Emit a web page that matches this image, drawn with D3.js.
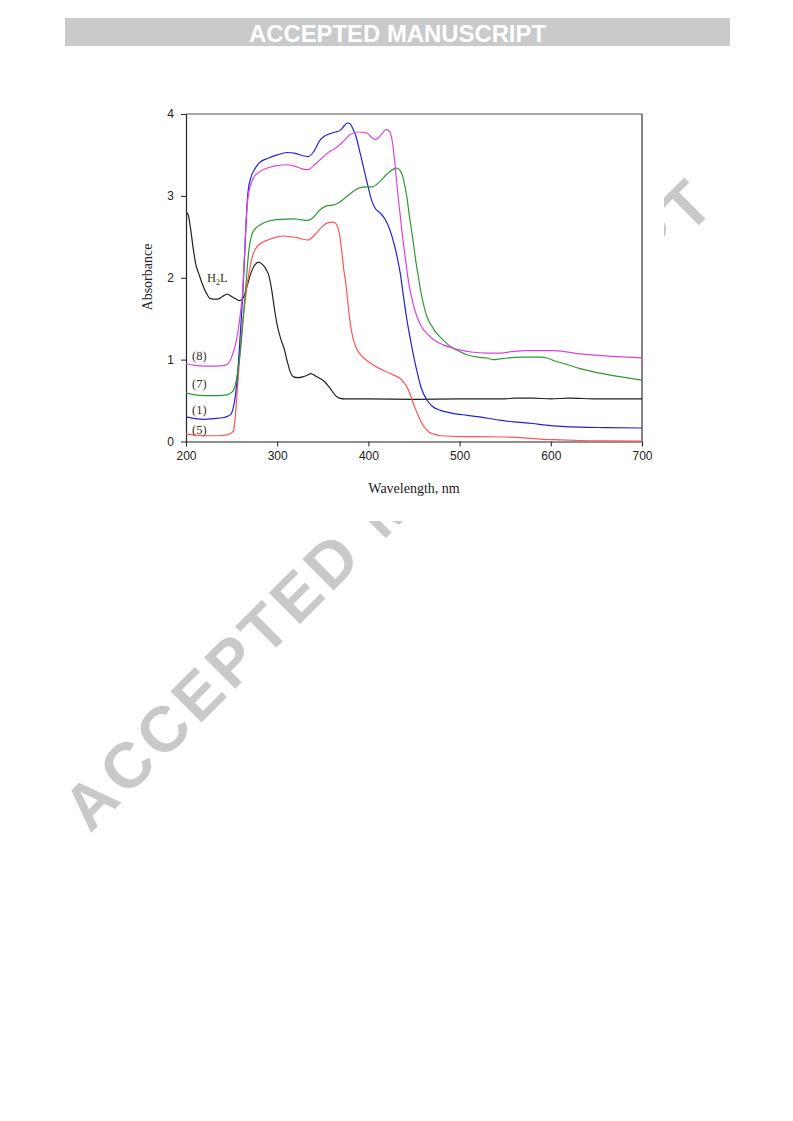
<!DOCTYPE html>
<html>
<head>
<meta charset="utf-8">
<script src="https://cdn.jsdelivr.net/npm/d3@7"></script>
<style>
  html, body { margin: 0; padding: 0; background: #fff; }
  svg { display: block; }
</style>
</head>
<body>
<svg id="chart" width="793" height="1121"></svg>
<script>
// ---- Data ----
const xTicks = [200, 300, 400, 500, 600, 700];
const yTicks = [0, 1, 2, 3, 4];

// H2L (black)
const seriesH2L = [[200,2.8],[202,2.78],[205,2.6],[208,2.35],[211,2.15],[214,2.05],[218,1.92],[222,1.82],[226,1.75],[230,1.74],[235,1.74],[240,1.77],[245,1.80],[250,1.77],[255,1.74],[259,1.72],[263,1.76],[267,1.9],[271,2.05],[275,2.15],[280,2.19],[284,2.16],[288,2.1],[291,2.02],[294,1.85],[297,1.62],[300,1.42],[304,1.25],[308,1.12],[311,0.98],[314,0.86],[318,0.79],[323,0.78],[328,0.79],[333,0.81],[337,0.83],[342,0.8],[347,0.77],[352,0.73],[356,0.68],[360,0.62],[364,0.56],[368,0.53],[375,0.52],[400,0.52],[450,0.515],[500,0.52],[550,0.52],[560,0.53],[580,0.53],[600,0.52],[620,0.53],[650,0.52],[700,0.52]];

// (1) blue
const series1 = [[200,0.30],[210,0.28],[220,0.27],[230,0.28],[240,0.29],[246,0.31],[249,0.33],[252,0.42],[254,0.55],[256,0.75],[258,1.05],[260,1.40],[262,1.75],[264,2.2],[266,2.7],[268,3.05],[271,3.22],[275,3.32],[280,3.40],[290,3.46],[300,3.50],[311,3.53],[320,3.52],[328,3.49],[334,3.48],[340,3.54],[347,3.68],[352,3.73],[358,3.76],[364,3.78],[369,3.80],[373,3.85],[377,3.89],[380,3.88],[383,3.82],[386,3.74],[391,3.52],[398,3.19],[404,2.93],[408,2.84],[413,2.79],[418,2.72],[422,2.63],[426,2.5],[430,2.33],[435,2.05],[438,1.81],[442,1.5],[446,1.25],[450,1.02],[453,0.87],[458,0.65],[464,0.51],[470,0.43],[479,0.38],[490,0.35],[508,0.32],[522,0.30],[544,0.26],[559,0.24],[580,0.22],[595,0.20],[632,0.175],[660,0.17],[700,0.165]];

// (5) red
const series5 = [[200,0.09],[210,0.08],[220,0.07],[235,0.07],[245,0.08],[249,0.10],[252,0.13],[254,0.3],[256,0.59],[258,0.9],[260,1.2],[262,1.45],[265,1.73],[267,1.92],[269,2.05],[271,2.18],[274,2.3],[278,2.38],[285,2.44],[292,2.47],[300,2.50],[307,2.51],[315,2.50],[322,2.49],[328,2.47],[334,2.46],[339,2.50],[344,2.56],[350,2.63],[355,2.67],[362,2.68],[365,2.65],[368,2.55],[371,2.3],[373,2.1],[375,1.95],[377,1.75],[380,1.45],[383,1.27],[386,1.16],[390,1.08],[395,1.02],[402,0.96],[409,0.91],[416,0.87],[424,0.83],[430,0.80],[435,0.77],[439,0.72],[442,0.67],[446,0.57],[449,0.47],[453,0.36],[457,0.26],[461,0.18],[466,0.12],[472,0.09],[479,0.07],[500,0.06],[520,0.06],[548,0.055],[570,0.045],[588,0.03],[610,0.02],[632,0.012],[660,0.008],[700,0.005]];

// (7) green
const series7 = [[200,0.59],[210,0.57],[220,0.56],[235,0.56],[245,0.57],[250,0.60],[253,0.65],[256,0.8],[258,0.95],[260,1.15],[262,1.4],[265,1.81],[267,2.1],[269,2.34],[272,2.52],[276,2.6],[282,2.65],[290,2.69],[300,2.71],[318,2.72],[325,2.71],[333,2.70],[339,2.73],[347,2.83],[355,2.88],[362,2.89],[368,2.92],[376,2.99],[384,3.06],[391,3.10],[398,3.11],[404,3.11],[409,3.14],[413,3.18],[418,3.24],[424,3.30],[428,3.33],[431,3.34],[434,3.32],[437,3.26],[440,3.12],[442,3.0],[445,2.75],[449,2.45],[452,2.2],[455,2.0],[458,1.8],[461,1.65],[464,1.53],[470,1.4],[475,1.32],[482,1.24],[490,1.16],[500,1.10],[508,1.06],[520,1.03],[530,1.02],[537,1.00],[545,1.01],[552,1.02],[570,1.03],[588,1.03],[596,1.02],[603,0.99],[615,0.95],[632,0.89],[661,0.82],[700,0.75]];

// (8) magenta
const series8 = [[200,0.95],[210,0.93],[220,0.92],[232,0.92],[242,0.93],[246,0.95],[249,1.0],[252,1.1],[255,1.22],[258,1.42],[260,1.6],[262,1.81],[264,2.25],[266,2.7],[268,2.98],[270,3.1],[274,3.22],[280,3.29],[292,3.35],[300,3.37],[311,3.38],[320,3.36],[327,3.33],[334,3.32],[340,3.37],[347,3.44],[356,3.53],[365,3.59],[372,3.66],[380,3.75],[389,3.78],[398,3.77],[403,3.72],[407,3.69],[410,3.70],[415,3.76],[419,3.81],[422,3.80],[425,3.74],[427,3.6],[429,3.4],[432,3.05],[435,2.75],[438,2.45],[441,2.2],[444,1.95],[447,1.78],[451,1.6],[457,1.43],[464,1.32],[472,1.24],[482,1.18],[500,1.12],[515,1.09],[530,1.08],[545,1.08],[559,1.10],[573,1.11],[603,1.11],[632,1.07],[668,1.04],[700,1.02]];

const seriesColors = { h2l: "#222222", s5: "#ff5555", s1: "#2222dd", s7: "#2e9a2e", s8: "#dd44dd" };
const curveLabels = [
  { text: "(8)", x: 200, y: 1.04 },
  { text: "(7)", x: 200, y: 0.70 },
  { text: "(1)", x: 200, y: 0.39 },
  { text: "(5)", x: 200, y: 0.14 }
];

// ---- Drawing ----
const svg = d3.select("#chart");
svg.append("rect").attr("width", 793).attr("height", 1121).attr("fill", "#fff");

// Watermark (behind chart image)
svg.append("text")
  .attr("transform", "translate(90,834) rotate(-45)")
  .attr("font-family", "Liberation Sans, Arial, sans-serif")
  .attr("font-weight", "bold")
  .attr("font-size", 64)
  .attr("fill", "#c8c9cb")
  .attr("textLength", 885)
  .attr("lengthAdjust", "spacing")
  .text("ACCEPTED MANUSCRIPT");

// White background of the chart image covering the watermark
svg.append("rect").attr("x", 120).attr("y", 90).attr("width", 544).attr("height", 431).attr("fill", "#fff");

// Header bar
svg.append("rect").attr("x", 65).attr("y", 18).attr("width", 665).attr("height", 28).attr("fill", "#c9cacc");
svg.append("text")
  .attr("x", 397.5).attr("y", 41.5)
  .attr("text-anchor", "middle")
  .attr("font-family", "Liberation Sans Narrow, Liberation Sans, Arial, sans-serif")
  .attr("font-weight", "bold")
  .attr("font-size", 23)
  .attr("fill", "#ffffff")
  .attr("textLength", 297)
  .attr("lengthAdjust", "spacingAndGlyphs")
  .text("ACCEPTED MANUSCRIPT");

const x = d3.scaleLinear().domain([200, 700]).range([186, 642]);
const y = d3.scaleLinear().domain([0, 4]).range([441.5, 114]);

const g = svg.append("g");

// Frame
g.append("line").attr("x1", 186).attr("x2", 642).attr("y1", y(4)).attr("y2", y(4)).attr("stroke", "#888").attr("stroke-width", 1.5);
g.append("line").attr("x1", 642).attr("x2", 642).attr("y1", y(4)).attr("y2", y(0)).attr("stroke", "#333").attr("stroke-width", 1.2);

const xAxis = d3.axisBottom(x).tickValues(xTicks).tickSize(5).tickSizeOuter(0).tickFormat(d3.format("d"));
const yAxis = d3.axisLeft(y).tickValues(yTicks).tickSize(5).tickSizeOuter(0).tickFormat(d3.format("d"));

const gx = g.append("g").attr("transform", `translate(0,${y(0)})`).call(xAxis);
const gy = g.append("g").attr("transform", `translate(${x(200)},0)`).call(yAxis);
[gx, gy].forEach(a => {
  a.select(".domain").attr("stroke", "#222").attr("stroke-width", 1.2);
  a.selectAll(".tick line").attr("stroke", "#222").attr("stroke-width", 1);
  a.selectAll(".tick text").attr("font-family", "Liberation Sans, Arial, sans-serif").attr("font-size", 12).attr("fill", "#222");
});
gx.selectAll(".tick text").attr("dy", "0.9em");
gy.selectAll(".tick text").attr("dx", "-0.35em");

// Axis titles
svg.append("text")
  .attr("x", 414).attr("y", 493)
  .attr("text-anchor", "middle")
  .attr("font-family", "Liberation Serif, Times New Roman, serif")
  .attr("font-size", 14).attr("fill", "#222")
  .text("Wavelength, nm");
svg.append("text")
  .attr("transform", "translate(152,277) rotate(-90)")
  .attr("text-anchor", "middle")
  .attr("font-family", "Liberation Serif, Times New Roman, serif")
  .attr("font-size", 14).attr("fill", "#222")
  .text("Absorbance");

// Curves
const line = d3.line().x(d => x(d[0])).y(d => y(d[1])).curve(d3.curveMonotoneX);
const series = [
  { data: seriesH2L, color: seriesColors.h2l },
  { data: series5, color: seriesColors.s5 },
  { data: series1, color: seriesColors.s1 },
  { data: series7, color: seriesColors.s7 },
  { data: series8, color: seriesColors.s8 }
];
g.selectAll("path.curve").data(series).join("path")
  .attr("class", "curve")
  .attr("d", d => line(d.data))
  .attr("fill", "none")
  .attr("stroke", d => d.color)
  .attr("stroke-width", 1.2);

// Curve labels
svg.selectAll("text.clabel").data(curveLabels).join("text")
  .attr("class", "clabel")
  .attr("x", d => x(d.x) + 6)
  .attr("y", d => y(d.y) + 4)
  .attr("font-family", "Liberation Serif, Times New Roman, serif")
  .attr("font-size", 12.5).attr("fill", "#3a3020")
  .text(d => d.text);

const h2l = svg.append("text")
  .attr("x", x(223)).attr("y", y(1.95))
  .attr("font-family", "Liberation Serif, Times New Roman, serif")
  .attr("font-size", 12.5).attr("fill", "#3a3020");
h2l.append("tspan").text("H");
h2l.append("tspan").attr("font-size", 8).attr("dy", 3).text("2");
h2l.append("tspan").attr("dy", -3).text("L");
</script>
</body>
</html>
